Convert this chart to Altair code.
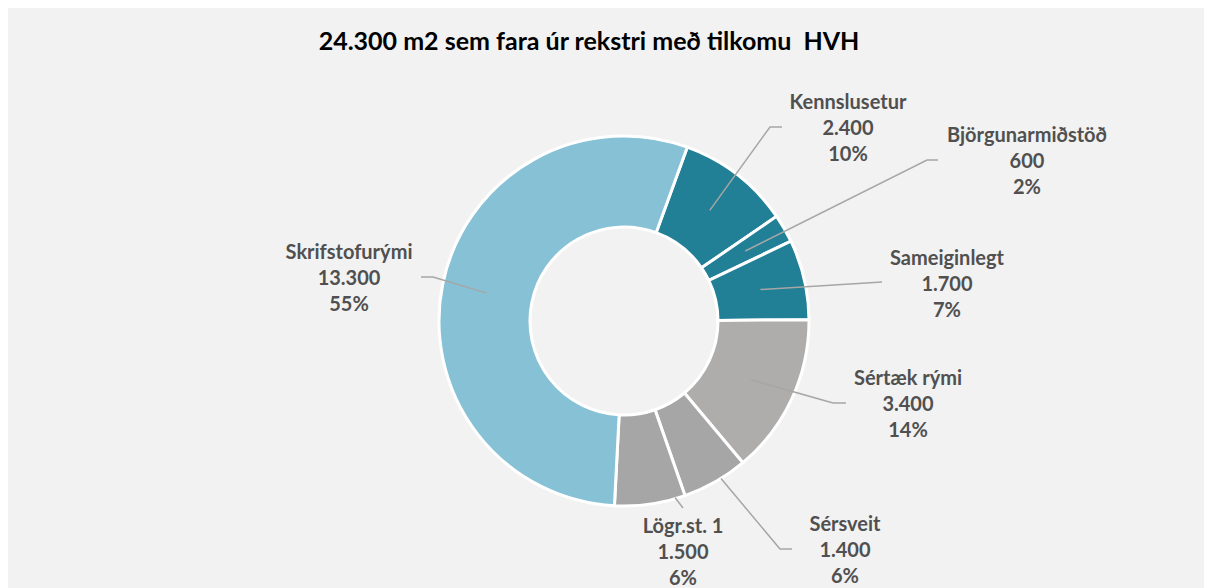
import math
import altair as alt
import pandas as pd

# ---- data ----
categories = ["Kennslusetur", "Björgunarmiðstöð", "Sameiginlegt", "Sértæk rými",
              "Sérsveit", "Lögr.st. 1", "Skrifstofurými"]
values = [2400, 600, 1700, 3400, 1400, 1500, 13300]
colors = ["#217F96", "#217F96", "#217F96", "#AFACAC", "#A6A6A6", "#A6A6A6", "#87C1D5"]
title_text = "24.300 m2 sem fara úr rekstri með tilkomu\u00a0\u00a0HVH"

# ---- layout (view pixel coordinates) ----
W, H = 1196, 572
CX, CY = 616, 313
R_OUT, R_IN = 185, 94
START_DEG = 20.0
label_pos = [(840, 95), (1019, 128), (939, 251), (900, 371), (837, 517), (675, 519), (341, 245)]
leader_elbow = [(762, 119), (919, 152), (874, 274), (825, 395), (772, 541), (675, 500), (425, 269)]
leader_end = [(774, 119), (930, 152), (874, 274), (838, 395), (784, 541), (675, 500), (413, 269)]
leader_r = [140, 140, 140, 140, 185, 184, 140]
leader_adj = [0, 0, 0, 0, -2, -8, 0]

total = sum(values)


def fmt(v):
    return f"{v:,}".replace(",", ".")


texts = [f"{c}\n{fmt(v)}\n{round(v / total * 100)}%" for c, v in zip(categories, values)]

arc_df = pd.DataFrame({"cat": categories, "value": values, "idx": list(range(len(values)))})

lbl_df = pd.DataFrame({
    "text": texts,
    "x": [p[0] for p in label_pos],
    "y": [p[1] for p in label_pos],
})

rows = []
cum = 0
for i, v in enumerate(values):
    mid = START_DEG + (cum + v / 2) / total * 360 + leader_adj[i]
    cum += v
    a = math.radians(mid)
    x0 = CX + leader_r[i] * math.sin(a)
    y0 = CY - leader_r[i] * math.cos(a)
    pts = [(x0, y0), leader_elbow[i], leader_end[i]]
    for j, (px, py) in enumerate(pts):
        rows.append({"cat": categories[i], "k": j, "x": px, "y": py})
line_df = pd.DataFrame(rows)

xs = alt.Scale(domain=[0, W], range=[0, W], nice=False, zero=False)
ys = alt.Scale(domain=[0, H], range=[0, H], nice=False, zero=False)

start = math.radians(START_DEG)
arcs = alt.Chart(arc_df).mark_arc(
    outerRadius=R_OUT, innerRadius=R_IN, stroke="white", strokeWidth=3
).encode(
    theta=alt.Theta("value:Q", stack=True, scale=alt.Scale(range=[start, start + 2 * math.pi])),
    order=alt.Order("idx:Q"),
    color=alt.Color("cat:N", scale=alt.Scale(domain=categories, range=colors), legend=None),
    x=alt.value(CX),
    y=alt.value(CY),
)

lines = alt.Chart(line_df).mark_line(color="#A6A6A6", strokeWidth=1.5).encode(
    x=alt.X("x:Q", scale=xs, axis=None),
    y=alt.Y("y:Q", scale=ys, axis=None),
    detail="cat:N",
    order="k:Q",
)

labels = alt.Chart(lbl_df).mark_text(
    font="Lato", fontSize=20, fontWeight="bold", color="#505050",
    lineBreak="\n", lineHeight=26, align="center", baseline="middle"
).encode(
    x=alt.X("x:Q", scale=xs, axis=None),
    y=alt.Y("y:Q", scale=ys, axis=None),
    text="text:N",
)

title = alt.Chart(pd.DataFrame({"t": [title_text], "x": [581], "y": [34]})).mark_text(
    font="Lato", fontSize=25, fontWeight="bold", color="#000000", align="center", baseline="middle"
).encode(
    x=alt.X("x:Q", scale=xs, axis=None),
    y=alt.Y("y:Q", scale=ys, axis=None),
    text="t:N",
)

chart = alt.layer(arcs, lines, labels, title).properties(
    width=W, height=H, padding=0, background="#F2F2F2"
).configure_view(stroke=None)

chart.save("out.html", embed_options={"renderer": "svg", "actions": False})
